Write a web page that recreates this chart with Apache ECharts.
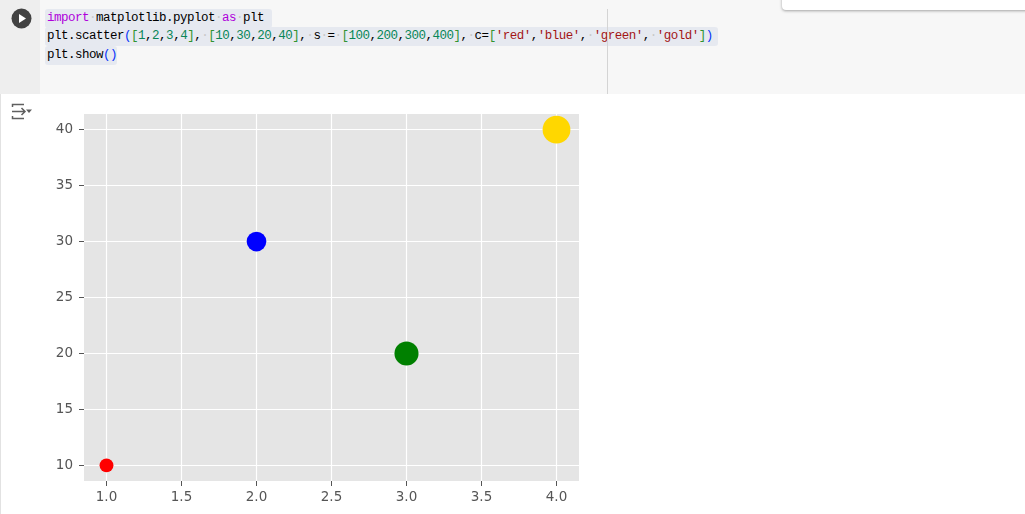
<!DOCTYPE html>
<html>
<head>
<meta charset="utf-8">
<script src="https://cdn.jsdelivr.net/npm/echarts@6/dist/echarts.min.js"></script>
<style>
  html, body { margin:0; padding:0; width:1025px; height:514px; overflow:hidden; background:#ffffff; }
  #cell { position:absolute; left:0; top:0; width:1025px; height:94px; background:#f7f7f7; }
  #gutter { position:absolute; left:0; top:0; width:40px; height:94px; background:#eeeeee; }
  #run { position:absolute; left:11px; top:8px; }
  .hl { position:absolute; left:45px; height:19px; background:#e6e9f0; border-radius:3px; }
  .code { position:absolute; left:47px; font-family:"Liberation Mono","DejaVu Sans Mono",monospace; font-size:12.5px; letter-spacing:-0.5px; line-height:19px; white-space:pre; color:#000; }
  .kw { color:#af00db; } .num { color:#098658; } .str { color:#a31515; } .b1 { color:#0431fa; } .b2 { color:#319331; } .ws { color:#c8c8c8; }
  #ruler { position:absolute; left:607px; top:9px; width:1px; height:85px; background:#d4d4d4; }
  #toolbar { position:absolute; left:782px; top:-6px; width:250px; height:16px; background:#fff; border-radius:4px; box-shadow:0 1px 3px rgba(0,0,0,0.35); }
  #out { position:absolute; left:0; top:94px; width:1025px; height:420px; border-left:1px solid #e2e2e2; box-sizing:border-box; }
  #icon { position:absolute; left:10px; top:102px; }
  #chart { position:absolute; left:0; top:0; width:1025px; height:514px; }
</style>
</head>
<body>
<div id="cell">
  <div id="gutter"></div>
  <svg id="run" width="21" height="21" viewBox="0 0 21 21"><circle cx="10.5" cy="10.5" r="10" fill="#424242"/><path d="M8 6 L15 10.5 L8 15 Z" fill="#ffffff"/></svg>
  <div class="hl" style="top:9px;width:227px;"></div>
  <div class="hl" style="top:27px;width:673px;"></div>
  <div class="hl" style="top:46px;width:72px;"></div>
  <div class="code" style="top:9px;"><span class="kw">import</span><span class="ws">·</span>matplotlib.pyplot<span class="ws">·</span><span class="kw">as</span><span class="ws">·</span>plt</div>
  <div class="code" style="top:27px;">plt.scatter<span class="b1">(</span><span class="b2">[</span><span class="num">1</span>,<span class="num">2</span>,<span class="num">3</span>,<span class="num">4</span><span class="b2">]</span>,<span class="ws">·</span><span class="b2">[</span><span class="num">10</span>,<span class="num">30</span>,<span class="num">20</span>,<span class="num">40</span><span class="b2">]</span>,<span class="ws">·</span>s<span class="ws">·</span>=<span class="ws">·</span><span class="b2">[</span><span class="num">100</span>,<span class="num">200</span>,<span class="num">300</span>,<span class="num">400</span><span class="b2">]</span>,<span class="ws">·</span>c=<span class="b2">[</span><span class="str">'red'</span>,<span class="str">'blue'</span>,<span class="ws">·</span><span class="str">'green'</span>,<span class="ws">·</span><span class="str">'gold'</span><span class="b2">]</span><span class="b1">)</span></div>
  <div class="code" style="top:46px;">plt.show<span class="b1">()</span></div>
  <div id="ruler"></div>
  <div id="toolbar"></div>
</div>
<div id="out"></div>
<svg id="icon" width="24" height="20" viewBox="0 0 24 20">
  <path d="M2.5 5 V2.5 H14" stroke="#5f5f5f" stroke-width="1.5" fill="none"/>
  <path d="M2 9.5 H15 M11.5 6 L15 9.5 L11.5 13" stroke="#5f5f5f" stroke-width="1.5" fill="none"/>
  <path d="M2.5 14 V16.5 H14" stroke="#5f5f5f" stroke-width="1.5" fill="none"/>
  <path d="M16 7.5 H22 L19 11 Z" fill="#5f5f5f"/>
</svg>
<div id="chart"></div>
<script>
// ---- data ----
const xValues = [1, 2, 3, 4];
const yValues = [10, 30, 20, 40];
const sizes = [100, 200, 300, 400];
const colors = ['red', 'blue', 'green', 'gold'];
const colorHex = { red: '#ff0000', blue: '#0000ff', green: '#008000', gold: '#ffd700' };
const xTicks = [1.0, 1.5, 2.0, 2.5, 3.0, 3.5, 4.0];
const yTicks = [10, 15, 20, 25, 30, 35, 40];

const points = xValues.map((x, i) => ({
  value: [x, yValues[i], sizes[i]],
  itemStyle: { color: colorHex[colors[i]] }
}));

const chart = echarts.init(document.getElementById('chart'), null, { renderer: 'canvas' });
const labelStyle = { color: '#555555', fontFamily: 'DejaVu Sans', fontSize: 13.5 };
chart.setOption({
  backgroundColor: 'transparent',
  animation: false,
  grid: { left: 84, top: 114, width: 495, height: 367, show: true, backgroundColor: '#e5e5e5', borderWidth: 0 },
  xAxis: {
    type: 'value', min: 0.85, max: 4.15,
    axisLine: { show: false },
    axisTick: { show: true, customValues: xTicks, length: 5, lineStyle: { color: '#555555', width: 1 } },
    axisLabel: { customValues: xTicks, formatter: v => Number(v).toFixed(1), margin: 9, ...labelStyle },
    splitLine: { show: true, lineStyle: { color: '#ffffff', width: 1.2 } }
  },
  yAxis: {
    type: 'value', min: 8.6, max: 41.4,
    axisLine: { show: false },
    axisTick: { show: true, customValues: yTicks, length: 5, lineStyle: { color: '#555555', width: 1 } },
    axisLabel: { customValues: yTicks, formatter: v => String(Math.round(v)), margin: 11, ...labelStyle },
    splitLine: { show: true, lineStyle: { color: '#ffffff', width: 1.2 } }
  },
  series: [{
    type: 'scatter',
    data: points,
    symbolSize: v => Math.sqrt(v[2]) * 100 / 72,
    itemStyle: { opacity: 1 }
  }]
});
</script>
</body>
</html>
